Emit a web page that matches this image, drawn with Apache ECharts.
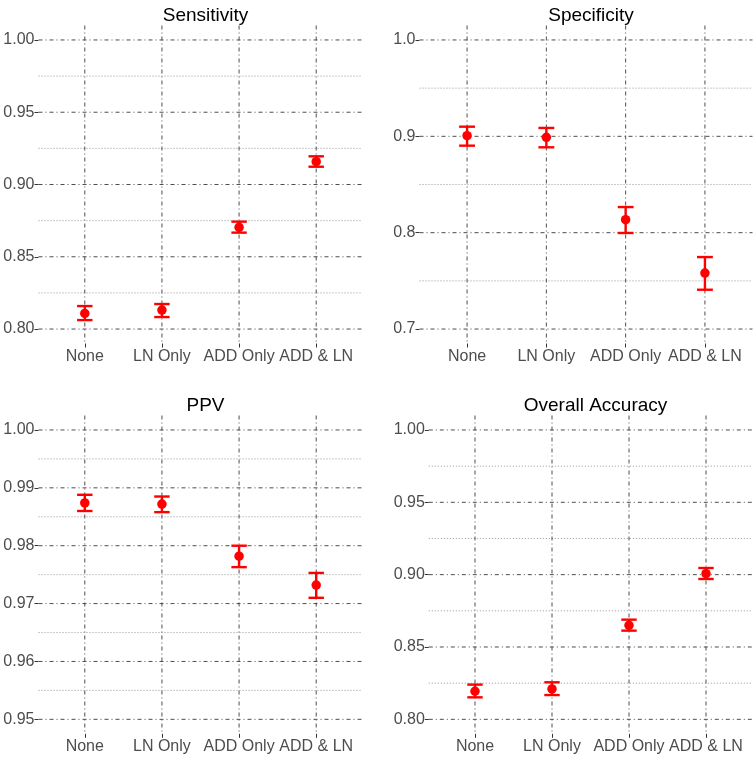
<!DOCTYPE html>
<html>
<head>
<meta charset="utf-8">
<script src="https://cdn.jsdelivr.net/npm/echarts@6/dist/echarts.min.js"></script>
<style>
html,body{margin:0;padding:0;background:#fff;}
#chart{width:755px;height:757px;}
</style>
</head>
<body>
<div id="chart"></div>
<script>
// ---- data ----
const categories = ['None', 'LN Only', 'ADD Only', 'ADD & LN'];

const sensitivity     = [0.8108, 0.8131, 0.8704, 0.9158];
const sensitivityLow  = [0.8062, 0.8083, 0.8667, 0.9123];
const sensitivityHigh = [0.8159, 0.8173, 0.8743, 0.9195];

const specificity     = [0.9007, 0.8990, 0.8135, 0.7581];
const specificityLow  = [0.8903, 0.8886, 0.7997, 0.7408];
const specificityHigh = [0.9100, 0.9087, 0.8266, 0.7747];

const ppv     = [0.9874, 0.9872, 0.9782, 0.9732];
const ppvLow  = [0.9860, 0.9858, 0.9763, 0.9710];
const ppvHigh = [0.9888, 0.9885, 0.9800, 0.9753];

const accuracy     = [0.8194, 0.8210, 0.8650, 0.9007];
const accuracyLow  = [0.8152, 0.8168, 0.8613, 0.8970];
const accuracyHigh = [0.8240, 0.8256, 0.8689, 0.9046];

const sensitivityTicks = ['0.80', '0.85', '0.90', '0.95', '1.00'];
const specificityTicks = ['0.7', '0.8', '0.9', '1.0'];
const ppvTicks         = ['0.95', '0.96', '0.97', '0.98', '0.99', '1.00'];
const accuracyTicks    = ['0.80', '0.85', '0.90', '0.95', '1.00'];

const titles = ['Sensitivity', 'Specificity', 'PPV', 'Overall Accuracy'];

// ---- layout (pixels) ----
const panels = [
  {L: 38.5,  R: 362.5, T: 25.5,  B: 343.5, titleTop: 1.5},
  {L: 419.5, R: 752.5, T: 25.5,  B: 343.5, titleTop: 1.5},
  {L: 38.5,  R: 362.5, T: 415.5, B: 733.8, titleTop: 391},
  {L: 428.8, R: 752.2, T: 415.5, B: 733.8, titleTop: 391}
];

const panelData = [
  {v: sensitivity, lo: sensitivityLow, hi: sensitivityHigh, ticks: sensitivityTicks},
  {v: specificity, lo: specificityLow, hi: specificityHigh, ticks: specificityTicks},
  {v: ppv, lo: ppvLow, hi: ppvHigh, ticks: ppvTicks},
  {v: accuracy, lo: accuracyLow, hi: accuracyHigh, ticks: accuracyTicks}
];

const EXP = 0.6; // discrete axis expansion (in category units)
const nCat = categories.length;
const MAJOR = '#4d4d4d';
const MINOR = '#8a8a8a';
const TXT = '#4d4d4d';
const FONT = '"Liberation Sans", Arial, Helvetica, sans-serif';

const grids = [], xAxes = [], yAxes = [], series = [], titleOpts = [];

panels.forEach((p, k) => {
  const W = p.R - p.L;
  const units = nCat - 1 + 2 * EXP;
  const band = W / units;
  const gLeft = p.L + (EXP - 0.5) * band;
  const gWidth = band * nCat;
  grids.push({left: gLeft, top: p.T, width: gWidth, height: p.B - p.T, containLabel: false});

  const d = panelData[k];
  const tickVals = d.ticks.map(Number);
  const dec = d.ticks[0].split('.')[1].length;
  const lo = tickVals[0], hi = tickVals[tickVals.length - 1];
  const pad = (hi - lo) * 0.05;
  const minors = [];
  for (let i = 0; i < tickVals.length - 1; i++) minors.push((tickVals[i] + tickVals[i + 1]) / 2);

  titleOpts.push({
    text: titles[k], left: (p.L + p.R) / 2, top: p.titleTop, textAlign: 'center',
    textStyle: {fontFamily: FONT, fontSize: 19, fontWeight: 'normal', color: '#000'}
  });

  xAxes.push({
    type: 'category', gridIndex: k, data: categories, boundaryGap: true,
    axisLine: {show: false},
    axisTick: {show: true, alignWithLabel: true, length: 4, lineStyle: {color: '#333', width: 1}},
    axisLabel: {fontFamily: FONT, fontSize: 16, color: TXT, margin: 5, interval: 0},
    splitLine: {show: false}
  });

  yAxes.push({
    type: 'value', gridIndex: k, min: lo - pad, max: hi + pad,
    offset: (EXP - 0.5) * band,
    axisLine: {show: false},
    axisTick: {show: true, length: 4, customValues: tickVals, lineStyle: {color: '#333', width: 1}},
    axisLabel: {fontFamily: FONT, fontSize: 16, color: TXT, margin: 4, customValues: tickVals,
      formatter: v => Number(v).toFixed(dec)},
    splitLine: {show: false}
  });

  const ext = (EXP - 0.5);
  const hLine = (dash, color, width) => function (params, api) {
    const cs = params.coordSys;
    const b = api.size([1, 0])[0];
    const y = api.coord([0, api.value(1)])[1];
    return {type: 'line', shape: {x1: cs.x - ext * b, y1: y, x2: cs.x + cs.width + ext * b, y2: y},
      style: {stroke: color, lineWidth: width, lineDash: dash}, silent: true};
  };

  // minor horizontal grid
  series.push({
    type: 'custom', xAxisIndex: k, yAxisIndex: k, z: 1, clip: false, silent: true,
    data: minors.map(m => [0, m]),
    renderItem: hLine([1, 2], MINOR, 0.9)
  });
  // major horizontal grid
  series.push({
    type: 'custom', xAxisIndex: k, yAxisIndex: k, z: 2, clip: false, silent: true,
    data: tickVals.map(t => [0, t]),
    renderItem: hLine([4, 3, 1, 3], MAJOR, 1)
  });
  // vertical grid at categories
  series.push({
    type: 'custom', xAxisIndex: k, yAxisIndex: k, z: 2, clip: false, silent: true,
    data: categories.map(c => [c, lo]),
    renderItem: function (params, api) {
      const cs = params.coordSys;
      const x = api.coord([api.value(0), api.value(1)])[0];
      return {type: 'line', shape: {x1: x, y1: cs.y, x2: x, y2: cs.y + cs.height},
        style: {stroke: MAJOR, lineWidth: 1, lineDash: [4, 3, 1, 3]}, silent: true};
    }
  });
  // error bars
  series.push({
    type: 'custom', xAxisIndex: k, yAxisIndex: k, z: 5, silent: true,
    data: categories.map((c, i) => [c, d.lo[i], d.hi[i]]),
    encode: {x: 0, y: [1, 2]},
    renderItem: function (params, api) {
      const c = api.value(0);
      const pLo = api.coord([c, api.value(1)]);
      const pHi = api.coord([c, api.value(2)]);
      const hw = api.size([1, 0])[0] * 0.1;
      const st = {stroke: '#ff0000', lineWidth: 2.4};
      return {type: 'group', children: [
        {type: 'line', shape: {x1: pLo[0], y1: pLo[1], x2: pHi[0], y2: pHi[1]}, style: st},
        {type: 'line', shape: {x1: pLo[0] - hw, y1: pLo[1], x2: pLo[0] + hw, y2: pLo[1]}, style: st},
        {type: 'line', shape: {x1: pHi[0] - hw, y1: pHi[1], x2: pHi[0] + hw, y2: pHi[1]}, style: st}
      ]};
    }
  });
  // points
  series.push({
    type: 'scatter', xAxisIndex: k, yAxisIndex: k, z: 6, silent: true,
    symbol: 'circle', symbolSize: 9.5,
    itemStyle: {color: '#ff0000', opacity: 1},
    data: categories.map((c, i) => [c, d.v[i]])
  });
});

const chart = echarts.init(document.getElementById('chart'), null, {renderer: 'canvas'});
chart.setOption({
  animation: false,
  backgroundColor: '#ffffff',
  title: titleOpts,
  grid: grids,
  xAxis: xAxes,
  yAxis: yAxes,
  series: series
});
</script>
</body>
</html>
